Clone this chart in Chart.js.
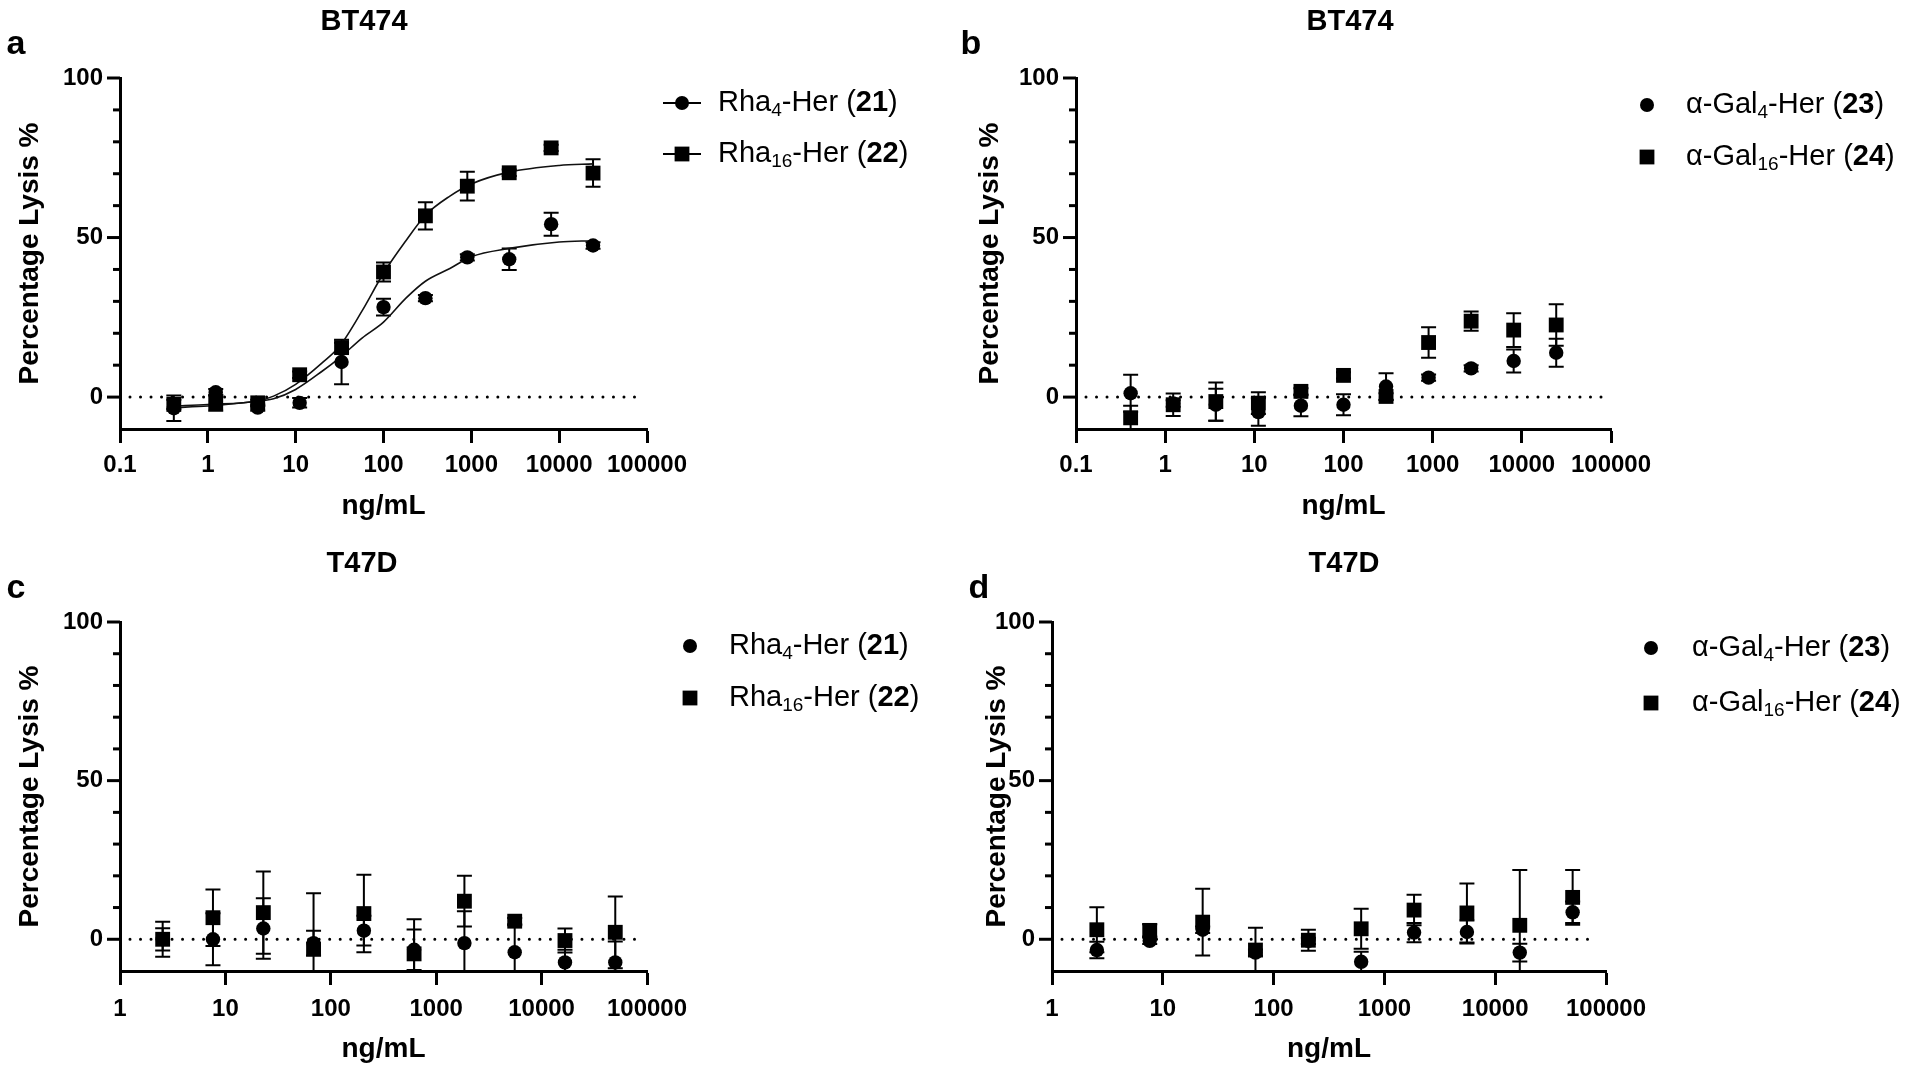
<!DOCTYPE html>
<html>
<head>
<meta charset="utf-8">
<title>Percentage lysis</title>
<script src="https://cdn.jsdelivr.net/npm/chart.js@4.4.1/dist/chart.umd.min.js"></script>
<style>
    html, body { margin: 0; padding: 0; background: #fff; }
    #wrap { position: relative; width: 1911px; height: 1075px; }
    canvas { position: absolute; }
</style>
</head>
<body>
<div id="wrap">
    <canvas id="chart-a" width="955" height="537" style="left:0;top:0"></canvas>
    <canvas id="chart-b" width="956" height="537" style="left:955px;top:0"></canvas>
    <canvas id="chart-c" width="955" height="538" style="left:0;top:537px"></canvas>
    <canvas id="chart-d" width="956" height="538" style="left:955px;top:537px"></canvas>
</div>
<script>
// doses (ng/mL)
const doseBT474 = [0.41, 1.23, 3.7, 11.1, 33.3, 100, 300, 900, 2700, 8100, 24300];
const doseT47D = [2.54, 7.62, 22.9, 68.6, 206, 617, 1852, 5556, 16667, 50000];

// a: BT474, Rha conjugates
const rha4BT474 = [-3.5, 1.5, -3.3, -1.8, 11.0, 28.2, 31.0, 43.8, 43.2, 54.2, 47.5];
const rha4BT474Err = [4.0, 1.0, 1.0, 1.5, 7.0, 2.6, 1.0, 1.0, 3.4, 3.6, 1.0];
const rha16BT474 = [-2.3, -1.8, -1.8, 7.0, 15.5, 39.2, 56.8, 66.1, 70.3, 78.1, 70.2];
const rha16BT474Err = [1.5, 2.5, 1.0, 1.0, 1.5, 3.0, 4.3, 4.5, 1.0, 1.0, 4.3];

// fitted curves
const fitDose = [0.41, 1, 3.7, 5.6, 10, 20, 31.6, 57, 100, 180, 300, 570, 1000, 2700, 10000, 24300];
const fitRha4 = [-3.3, -2.8, -1.2, -0.5, 2.4, 8.1, 12.3, 18.5, 23.5, 31.0, 36.3, 40.3, 44.0, 46.6, 48.6, 49.0];
const fitRha16 = [-2.8, -2.3, -1.2, 0.3, 4.0, 10.7, 15.9, 27.0, 38.8, 49.0, 57.0, 63.0, 66.8, 70.5, 72.6, 73.1];

// b: BT474, alpha-Gal conjugates
const gal4BT474 = [1.2, -2.0, -2.4, -4.7, -2.7, -2.4, 3.3, 6.1, 9.0, 11.3, 13.9];
const gal4BT474Err = [5.8, 1.0, 5.0, 4.3, 3.3, 3.3, 4.2, 1.0, 1.0, 3.6, 4.4];
const gal16BT474 = [-6.5, -2.4, -1.4, -1.9, 1.8, 6.8, 0.2, 17.1, 23.8, 21.0, 22.6];
const gal16BT474Err = [3.8, 3.5, 6.0, 3.4, 1.0, 1.0, 1.0, 4.8, 3.0, 5.3, 6.5];

// c: T47D, Rha conjugates
const rha4T47D = [0.0, 0.0, 3.4, -1.2, 2.7, -3.3, -1.2, -4.1, -7.3, -7.3];
const rha4T47DErr = [3.5, 8.2, 9.5, 3.9, 4.7, 6.4, 10.0, 8.5, 4.0, 6.6];
const rha16T47D = [0.0, 6.8, 8.4, -3.1, 8.1, -4.6, 12.0, 5.7, -0.4, 2.2];
const rha16T47DErr = [5.5, 8.9, 13.0, 17.6, 12.2, 10.9, 8.0, 1.0, 3.8, 11.3];

// d: T47D, alpha-Gal conjugates
const gal4T47D = [-3.4, -0.5, 3.0, -4.2, -0.5, -7.1, 2.1, 2.3, -4.2, 8.5];
const gal4T47DErr = [2.6, 1.0, 1.0, 1.0, 1.0, 3.2, 3.0, 3.6, 2.8, 3.4];
const gal16T47D = [3.0, 2.8, 5.4, -3.4, -0.3, 3.3, 9.2, 8.3, 4.4, 13.2];
const gal16T47DErr = [7.1, 1.9, 10.5, 7.0, 3.3, 6.3, 4.8, 9.3, 17.4, 8.6];

// axes
const yTicks = [-10, 0, 10, 20, 30, 40, 50, 60, 70, 80, 90, 100];
const yLabelled = [0, 50, 100];
const xTicksFrom01 = [0.1, 1, 10, 100, 1000, 10000, 100000];
const xLabelsFrom01 = ['0.1', '1', '10', '100', '1000', '10000', '100000'];
const xTicksFrom1 = [1, 10, 100, 1000, 10000, 100000];
const xLabelsFrom1 = ['1', '10', '100', '1000', '10000', '100000'];

const FONT = "'Liberation Sans', Arial, Helvetica, sans-serif";
const BLACK = '#000';

const legendRha = [
    [{ t: 'Rha' }, { t: '4', sub: true }, { t: '-Her (' }, { t: '21', bold: true }, { t: ')' }],
    [{ t: 'Rha' }, { t: '16', sub: true }, { t: '-Her (' }, { t: '22', bold: true }, { t: ')' }],
];
const legendGal = [
    [{ t: 'α-Gal' }, { t: '4', sub: true }, { t: '-Her (' }, { t: '23', bold: true }, { t: ')' }],
    [{ t: 'α-Gal' }, { t: '16', sub: true }, { t: '-Her (' }, { t: '24', bold: true }, { t: ')' }],
];

function toPoints(xs, ys) {
    return xs.map((x, i) => ({ x, y: ys[i] }));
}

function drawMarker(ctx, style, x, y) {
    ctx.fillStyle = BLACK;
    ctx.beginPath();
    if (style === 'circle') {
        ctx.arc(x, y, 7, 0, Math.PI * 2);
    } else {
        ctx.rect(x - 7.4, y - 7.4, 14.8, 14.8);
    }
    ctx.fill();
}

const panelDecor = {
    id: 'panelDecor',
    beforeDatasetsDraw(chart, args, opts) {
        const { ctx, chartArea: area, scales: { x, y } } = chart;

        // dotted zero line
        ctx.save();
        ctx.strokeStyle = BLACK;
        ctx.lineWidth = 3;
        ctx.lineCap = 'round';
        ctx.setLineDash([0.01, 10.5]);
        const y0 = y.getPixelForValue(0);
        ctx.beginPath();
        ctx.moveTo(area.left + 10, y0);
        ctx.lineTo(area.right - 10, y0);
        ctx.stroke();
        ctx.restore();

        // error bars (mean ± SD), clipped at the x axis
        ctx.save();
        ctx.beginPath();
        ctx.rect(area.left, area.top - 30, area.right - area.left, area.bottom - area.top + 30);
        ctx.clip();
        ctx.strokeStyle = BLACK;
        chart.data.datasets.forEach((ds) => {
            if (!ds.errors) {
                return;
            }
            ds.data.forEach((p, i) => {
                const px = x.getPixelForValue(p.x);
                const top = y.getPixelForValue(p.y + ds.errors[i]);
                const bot = y.getPixelForValue(p.y - ds.errors[i]);
                ctx.lineWidth = 2;
                ctx.beginPath();
                ctx.moveTo(px, top);
                ctx.lineTo(px, bot);
                ctx.moveTo(px - 7.5, top);
                ctx.lineTo(px + 7.5, top);
                ctx.moveTo(px - 7.5, bot);
                ctx.lineTo(px + 7.5, bot);
                ctx.stroke();
            });
        });
        ctx.restore();
    },
    afterDraw(chart, args, opts) {
        const { ctx, chartArea: area, scales: { y } } = chart;
        ctx.save();

        // y tick marks, long for labelled values
        ctx.strokeStyle = BLACK;
        ctx.lineWidth = 3;
        yTicks.forEach((v) => {
            if (v === -10) {
                return;
            }
            const py = y.getPixelForValue(v);
            const len = yLabelled.includes(v) ? 13 : 7;
            ctx.beginPath();
            ctx.moveTo(area.left - len, py);
            ctx.lineTo(area.left, py);
            ctx.stroke();
        });

        ctx.fillStyle = BLACK;
        ctx.textBaseline = 'middle';

        ctx.font = `bold 34px ${FONT}`;
        ctx.textAlign = 'center';
        ctx.fillText(opts.letter, opts.letterX, opts.letterY);

        ctx.font = `bold 29px ${FONT}`;
        ctx.fillText(opts.title, opts.titleX, opts.titleY);

        // legend
        ctx.textAlign = 'left';
        opts.legend.forEach((runs, i) => {
            const ly = opts.legendY[i];
            const style = i === 0 ? 'circle' : 'rect';
            if (opts.legendLine) {
                ctx.lineWidth = 2;
                ctx.beginPath();
                ctx.moveTo(opts.legendX - 19, ly);
                ctx.lineTo(opts.legendX + 19, ly);
                ctx.stroke();
            }
            drawMarker(ctx, style, opts.legendX, ly);
            let tx = opts.textX;
            runs.forEach((r) => {
                const size = r.sub ? 19 : 29;
                ctx.font = `${r.bold ? 'bold ' : ''}${size}px ${FONT}`;
                ctx.fillText(r.t, tx, ly + (r.sub ? 8 : 0));
                tx += ctx.measureText(r.t).width;
            });
        });
        ctx.restore();
    },
};

function makePanel(p) {
    const datasets = [
        {
            label: p.names[1],
            data: toPoints(p.dose, p.squares),
            errors: p.squaresErr,
            pointStyle: 'rect',
            pointRadius: 10.5,
            backgroundColor: BLACK,
            borderColor: BLACK,
            borderWidth: 0,
            order: 1,
        },
        {
            label: p.names[0],
            data: toPoints(p.dose, p.circles),
            errors: p.circlesErr,
            pointStyle: 'circle',
            pointRadius: 7.2,
            backgroundColor: BLACK,
            borderColor: BLACK,
            borderWidth: 0,
            order: 2,
        },
    ];
    (p.fits || []).forEach((fit) => {
        datasets.push({
            label: 'fit',
            data: toPoints(fitDose, fit),
            showLine: true,
            pointRadius: 0,
            borderColor: '#111',
            borderWidth: 1.6,
            cubicInterpolationMode: 'monotone',
            order: 3,
        });
    });

    const tickFont = { family: FONT, size: 24, weight: 'bold' };
    const titleFont = { family: FONT, size: 28, weight: 'bold' };

    new Chart(document.getElementById(p.id), {
        type: 'scatter',
        data: { datasets },
        options: {
            responsive: false,
            animation: false,
            events: [],
            layout: { padding: { left: 0, top: p.top, right: p.right, bottom: 0 } },
            plugins: {
                legend: { display: false },
                tooltip: { enabled: false },
                panelDecor: p.decor,
            },
            scales: {
                x: {
                    type: 'logarithmic',
                    min: p.xTicks[0],
                    max: 100000,
                    afterBuildTicks: (s) => {
                        s.ticks = p.xTicks.map((v) => ({ value: v }));
                    },
                    afterFit: (s) => {
                        s.height = p.xAxisHeight;
                    },
                    border: { display: true, color: BLACK, width: 3 },
                    grid: { drawOnChartArea: false, drawTicks: true, tickLength: 14, tickWidth: 3, tickColor: BLACK },
                    ticks: {
                        color: BLACK,
                        font: tickFont,
                        padding: p.xTickPad,
                        maxRotation: 0,
                        autoSkip: false,
                        callback: (v, i) => p.xLabels[i],
                    },
                    title: {
                        display: true,
                        text: 'ng/mL',
                        color: BLACK,
                        font: titleFont,
                        padding: { top: 0, bottom: p.xTitlePad },
                    },
                },
                y: {
                    min: -10,
                    max: 100,
                    afterBuildTicks: (s) => {
                        s.ticks = yTicks.map((v) => ({ value: v }));
                    },
                    afterFit: (s) => {
                        s.width = p.yAxisWidth;
                    },
                    border: { display: true, color: BLACK, width: 3 },
                    grid: { drawOnChartArea: false, drawTicks: false },
                    ticks: {
                        color: BLACK,
                        font: tickFont,
                        padding: 17,
                        autoSkip: false,
                        callback: (v) => (yLabelled.includes(v) ? String(v) : ''),
                    },
                    title: {
                        display: true,
                        text: 'Percentage Lysis %',
                        color: BLACK,
                        font: titleFont,
                        padding: { top: p.yTitlePad, bottom: 0 },
                    },
                },
            },
        },
        plugins: [panelDecor],
    });
}

makePanel({
    id: 'chart-a', dose: doseBT474, names: ['Rha4-Her (21)', 'Rha16-Her (22)'],
    circles: rha4BT474, circlesErr: rha4BT474Err, squares: rha16BT474, squaresErr: rha16BT474Err,
    fits: [fitRha4, fitRha16],
    xTicks: xTicksFrom01, xLabels: xLabelsFrom01,
    top: 78, right: 308, yAxisWidth: 120, xAxisHeight: 108, xTickPad: 8, xTitlePad: 14, yTitlePad: 13,
    decor: { letter: 'a', letterX: 16, letterY: 45, title: 'BT474', titleX: 364, titleY: 22,
        legend: legendRha, legendLine: true, legendX: 682, textX: 718, legendY: [103, 154] },
});

makePanel({
    id: 'chart-b', dose: doseBT474, names: ['α-Gal4-Her (23)', 'α-Gal16-Her (24)'],
    circles: gal4BT474, circlesErr: gal4BT474Err, squares: gal16BT474, squaresErr: gal16BT474Err,
    xTicks: xTicksFrom01, xLabels: xLabelsFrom01,
    top: 78, right: 300, yAxisWidth: 121, xAxisHeight: 108, xTickPad: 8, xTitlePad: 14, yTitlePad: 18,
    decor: { letter: 'b', letterX: 16, letterY: 45, title: 'BT474', titleX: 395, titleY: 22,
        legend: legendGal, legendLine: false, legendX: 692, textX: 731, legendY: [105, 157] },
});

makePanel({
    id: 'chart-c', dose: doseT47D, names: ['Rha4-Her (21)', 'Rha16-Her (22)'],
    circles: rha4T47D, circlesErr: rha4T47DErr, squares: rha16T47D, squaresErr: rha16T47DErr,
    xTicks: xTicksFrom1, xLabels: xLabelsFrom1,
    top: 85, right: 308, yAxisWidth: 120, xAxisHeight: 104, xTickPad: 10, xTitlePad: 9, yTitlePad: 13,
    decor: { letter: 'c', letterX: 16, letterY: 52, title: 'T47D', titleX: 362, titleY: 27,
        legend: legendRha, legendLine: false, legendX: 690, textX: 729, legendY: [109, 161] },
});

makePanel({
    id: 'chart-d', dose: doseT47D, names: ['α-Gal4-Her (23)', 'α-Gal16-Her (24)'],
    circles: gal4T47D, circlesErr: gal4T47DErr, squares: gal16T47D, squaresErr: gal16T47DErr,
    xTicks: xTicksFrom1, xLabels: xLabelsFrom1,
    top: 85, right: 305, yAxisWidth: 97, xAxisHeight: 104, xTickPad: 10, xTitlePad: 9, yTitlePad: 25,
    decor: { letter: 'd', letterX: 24, letterY: 52, title: 'T47D', titleX: 389, titleY: 27,
        legend: legendGal, legendLine: false, legendX: 696, textX: 737, legendY: [111, 166] },
});
</script>
</body>
</html>
